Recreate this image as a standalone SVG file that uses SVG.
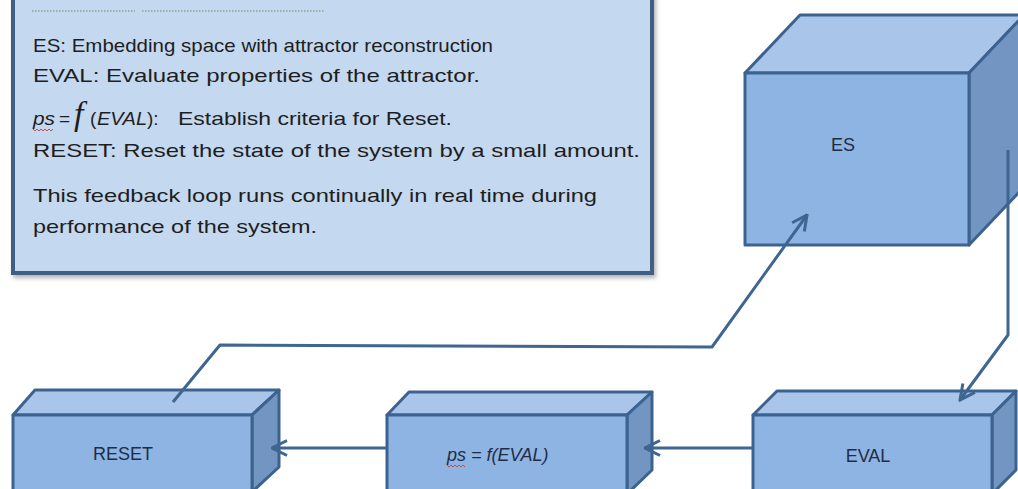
<svg xmlns="http://www.w3.org/2000/svg" width="1018" height="489" viewBox="0 0 1018 489">
<defs>
<style>
.front{fill:#8eb4e3;stroke:#3c6290;stroke-width:3;stroke-linejoin:round}
.top{fill:#a9c6ea;stroke:#3c6290;stroke-width:3;stroke-linejoin:round}
.side{fill:#7295c2;stroke:#3c6290;stroke-width:3;stroke-linejoin:round}
.lbl{font-family:"Liberation Sans",Arial,sans-serif;font-size:18px;fill:#1f2d44}
.txt{font-family:"Liberation Sans",Arial,sans-serif;font-size:19px;fill:#1e1e1e}
.conn{fill:none;stroke:#3f6591;stroke-width:3;stroke-linejoin:round}
.wavy{fill:none;stroke:#c0504d;stroke-width:1}
</style>
<marker id="arr" viewBox="0 0 12 12" refX="11" refY="6" markerWidth="6" markerHeight="6" markerUnits="strokeWidth" orient="auto">
<path d="M1,1 L11,6 L1,11" fill="none" stroke="#3f6591" stroke-width="2"/>
</marker>
<filter id="sh" x="-5%" y="-5%" width="110%" height="115%">
<feDropShadow dx="2" dy="3" stdDeviation="2" flood-color="#000" flood-opacity="0.3"/>
</filter>
</defs>
<rect width="1018" height="489" fill="#ffffff"/>

<g id="legend">
<rect x="13" y="-10" width="639" height="283" fill="#c4d8f0" stroke="#3f5f85" stroke-width="4" filter="url(#sh)"/>
<line x1="32" y1="11" x2="135" y2="11" stroke="#6f8a6a" stroke-width="1.2" stroke-dasharray="1.5,1.5"/>
<line x1="142" y1="11" x2="325" y2="11" stroke="#6f8a6a" stroke-width="1.2" stroke-dasharray="1.5,1.5"/>
<text class="txt" x="33" y="52" textLength="460" lengthAdjust="spacingAndGlyphs">ES:  Embedding  space with  attractor reconstruction</text>
<text class="txt" x="33" y="82" textLength="447" lengthAdjust="spacingAndGlyphs">EVAL:  Evaluate properties  of the  attractor.</text>
<text class="txt" y="125"><tspan font-style="italic" x="33" textLength="22" lengthAdjust="spacingAndGlyphs">ps</tspan><tspan x="59">=</tspan><tspan x="74" font-family="Liberation Serif" font-style="italic" font-size="34">f</tspan><tspan x="90">(</tspan><tspan x="97" font-style="italic" textLength="50" lengthAdjust="spacingAndGlyphs">EVAL</tspan><tspan x="147">):</tspan></text>
<path class="wavy" d="M33,129 l2,2 l2,-2 l2,2 l2,-2 l2,2 l2,-2 l2,2 l2,-2 l2,2 l2,-2"/>
<text class="txt" x="178" y="125" textLength="274" lengthAdjust="spacingAndGlyphs">Establish  criteria  for Reset.</text>
<text class="txt" x="33" y="157" textLength="607" lengthAdjust="spacingAndGlyphs">RESET:  Reset the  state  of the  system  by a  small amount.</text>
<text class="txt" x="33" y="202" textLength="564" lengthAdjust="spacingAndGlyphs">This feedback loop runs  continually  in real time  during</text>
<text class="txt" x="33" y="233" textLength="284" lengthAdjust="spacingAndGlyphs">performance  of the system.</text>
</g>

<g id="node-es">
<polygon class="top" points="745,73 800,15 1024,15 969,73"/>
<polygon class="side" points="969,73 1024,15 1024,187 969,245"/>
<rect class="front" x="745" y="73" width="224" height="172"/>
<text class="lbl" x="843" y="151" text-anchor="middle">ES</text>
</g>

<g id="node-eval">
<polygon class="top" points="753,415 777,391 1016,391 992,415"/>
<polygon class="side" points="992,415 1016,391 1016,470 992,494"/>
<rect class="front" x="753" y="415" width="239" height="82"/>
<text class="lbl" x="868" y="462" text-anchor="middle">EVAL</text>
</g>

<g id="node-ps">
<polygon class="top" points="387,415 409,392 652,392 627,415"/>
<polygon class="side" points="627,415 652,392 652,470 627,494"/>
<rect class="front" x="387" y="415" width="240" height="82"/>
<text class="lbl" x="447" y="461" font-style="italic">ps<tspan dx="5">= f(EVAL)</tspan></text>
<path class="wavy" d="M447,465 l2,2 l2,-2 l2,2 l2,-2 l2,2 l2,-2 l2,2 l2,-2 l2,2"/>
</g>

<g id="node-reset">
<polygon class="top" points="13,415 35,390 279,390 252,415"/>
<polygon class="side" points="252,415 279,390 279,467 252,492"/>
<rect class="front" x="13" y="415" width="239" height="82"/>
<text class="lbl" x="123" y="460" text-anchor="middle">RESET</text>
</g>

<g id="connectors">
<path class="conn" d="M1008,150 L1008,335 L960,400" marker-end="url(#arr)"/>
<path class="conn" d="M753,448 L645,448" marker-end="url(#arr)"/>
<path class="conn" d="M387,448 L272,448" marker-end="url(#arr)"/>
<path class="conn" d="M173,402 L220,345 L712,347 L807,215" marker-end="url(#arr)"/>
</g>
</svg>
